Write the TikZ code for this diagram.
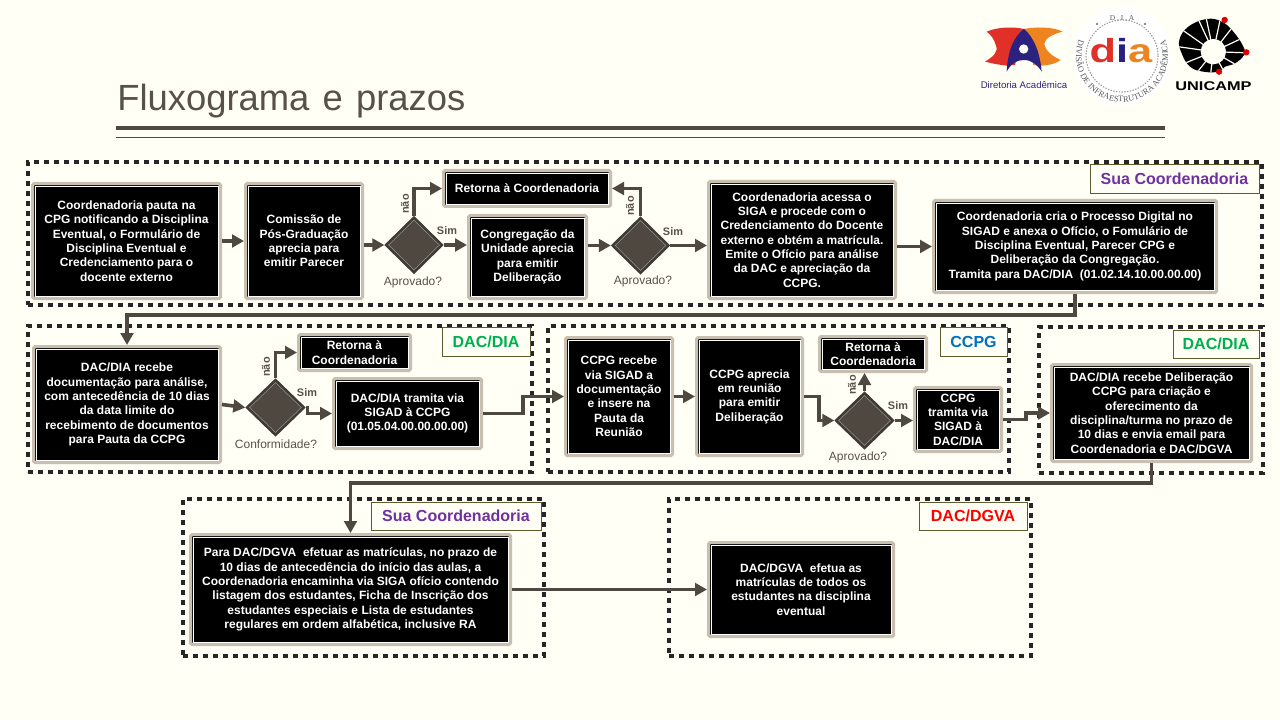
\documentclass[tikz,border=0pt]{standalone}
\usepackage{fontspec}
\setmainfont{Liberation Sans}
\newfontfamily\serifl{Liberation Serif}
\usetikzlibrary{arrows.meta,shapes.geometric,calc,decorations.text}
\definecolor{bgc}{HTML}{FFFFF5}
\definecolor{ln}{HTML}{4F4840}
\definecolor{tanb}{HTML}{C9BFB0}
\definecolor{tagb}{HTML}{5D5A2E}
\definecolor{txg}{HTML}{5A5248}
\definecolor{purp}{HTML}{7030A0}
\definecolor{grn}{HTML}{00B050}
\definecolor{blu}{HTML}{0070C0}
\definecolor{navy}{HTML}{2B2280}
\definecolor{jred}{HTML}{E03028}
\definecolor{jora}{HTML}{EE8420}
\tikzset{
  boxn/.style={draw=tanb,line width=2.4pt,fill=black,rounded corners=1pt,inner sep=0pt,align=center,text=white,
    font=\bfseries\fontsize{9}{10.75}\selectfont},
  inl/.style={draw=white,line width=.5pt},
  grpn/.style={draw=black!85,line width=2.4pt,dash pattern=on 3.9pt off 3.6pt,inner sep=0pt},
  tagn/.style={draw=tagb,line width=.7pt,fill=bgc,inner sep=0pt,font=\bfseries\fontsize{12}{14}\selectfont},
  conn/.style={draw=ln,line width=2.7pt,-{Triangle[length=9pt,width=9.5pt]}},
  dout/.style={diamond,aspect=1,draw=ln!80!black,line width=1pt,fill=ln!80!black,inner sep=0pt},
  din/.style={diamond,aspect=1,draw=ln!60!white,line width=.4pt,fill=ln,inner sep=0pt},
  simt/.style={text=txg,font=\bfseries\fontsize{8.2}{10}\selectfont,inner sep=0pt},
  qt/.style={text=txg,font=\fontsize{9}{10}\selectfont,inner sep=0pt},
}
\newcommand\bx[6]{%
  \node[boxn,minimum width={(#4-#2)*.75pt-2.4pt},minimum height={(#5-#3)*.75pt-2.4pt}] (#1) at ({(#2+#4)/2},{(#3+#5)/2}) {#6};
  \draw[inl] ([shift={(4,4)}]#1.north west) rectangle ([shift={(-4,-4)}]#1.south east);}
\newcommand\grp[5]{%
  \node[grpn,minimum width={(#4-#2)*.75pt},minimum height={(#5-#3)*.75pt}] (#1) at ({(#2+#4)/2},{(#3+#5)/2}) {};}
\newcommand\tagbox[7]{%
  \node[tagn,text=#6,minimum width={(#4-#2)*.75pt},minimum height={(#5-#3)*.75pt}] (#1) at ({(#2+#4)/2},{(#3+#5)/2}) {#7};}
\newcommand\dmd[5]{%
  \node[dout,minimum width={#4*.75pt},minimum height={#5*.75pt}] (#1) at (#2,#3) {};
  \node[din,minimum width={(#4-7)*.75pt},minimum height={(#5-7)*.75pt}] (#1i) at (#2,#3) {};}
\begin{document}
\begin{tikzpicture}[x=.75pt,y=-.75pt]
\useasboundingbox (0,0) rectangle (1280,720);
\fill[bgc] (0,0) rectangle (1280,720);

% title
\node[anchor=base west,inner sep=0pt,text=ln!95!white,font=\fontsize{27.3}{32}\selectfont] (title) at (117,111) {Fluxograma\hspace{2.3pt} e\hspace{2.3pt} prazos};
\coordinate (ra) at (116,128); \coordinate (rb) at (1165,128);
\coordinate (rc) at (116,137); \coordinate (rd) at (1165,137);
\draw[ln,line width=3.6pt] (ra) -- (rb);
\draw[ln,line width=.6pt] (rc) -- (rd);

% logo Diretoria Academica
\begin{scope}[shift={(975,10)},x=.25pt,y=-.25pt]
  \fill[jred] (35,65) .. controls (70,50) and (115,50) .. (147,57) -- (120,165) -- (95,167)
     .. controls (75,165) and (50,160) .. (30,155) .. controls (55,140) and (72,125) .. (62,105) .. controls (58,88) and (48,75) .. (35,65) -- cycle;
  \fill[jora] (263,65) .. controls (235,50) and (180,50) .. (147,57) -- (175,165) -- (200,167)
     .. controls (225,165) and (245,160) .. (257,150) .. controls (235,140) and (212,125) .. (208,102) .. controls (208,85) and (235,72) .. (263,65) -- cycle;
  \fill[navy] (147,57) .. controls (115,80) and (98,125) .. (95,185) .. controls (108,160) and (125,150) .. (147,150)
     .. controls (170,150) and (188,165) .. (200,185) .. controls (195,125) and (175,80) .. (147,57) -- cycle;
  \fill[bgc] (146,117) circle[radius=14];
\end{scope}
\node[inner sep=0pt,text=navy,font=\fontsize{7.2}{8}\selectfont] (ldir) at (1024,85) {Diretoria Acadêmica};

% logo DIA
\coordinate (dc) at (1122,56);
\fill[white] (dc) circle[radius=49];
\draw[gray!80,line width=.9pt,dash pattern=on .5pt off 1.6pt,line cap=round] (dc) circle[radius=36];
\path[decorate,decoration={text along path,text align=center,
   text={|\serifl\fontsize{6.3}{7}\selectfont\color{black!65}|DIVISÃO DE INFRAESTRUTURA ACADÊMICA}}]
   (dc) ++(142:34.5pt) arc[start angle=142,end angle=398,radius=34.5pt];
\node[inner sep=0pt,text=black!65,font=\serifl\fontsize{5.6}{6}\selectfont] (ldia) at (1122,18) {D . I . A};
\fill[black!60] (1097,24) circle[radius=1.2] (1145,24) circle[radius=1.2];
\node[inner sep=0pt,xscale=1.3,font=\bfseries\fontsize{25}{26}\selectfont] (ldib) at (1121,51) {\textcolor{jred}{d}\textcolor{navy}{i}\textcolor{jora}{a}};

% logo UNICAMP
\begin{scope}[shift={(1170,10)},x=.25pt,y=-.25pt]
  \begin{scope}
    \clip plot[smooth cycle,tension=.7] coordinates {(110,27) (155,35) (190,65) (220,110) (222,135) (195,160) (165,170) (145,185) (100,185) (60,170) (35,130) (28,90) (55,50)};
    \fill[black] (0,0) rectangle (260,210);
    \foreach \a in {-78,-52,-25,2,30,62,97,128,158,188,215,245,-102}
      \draw[bgc,line width=.9pt] (130,125) -- ++(\a:120);
  \end{scope}
  \fill[bgc] (130,125) circle[radius=38];
  \fill[red!85!black] (164,30) circle[radius=9.5] (229,127) circle[radius=9.5] (147,185) circle[radius=9.5];
\end{scope}
\node[inner sep=0pt,xscale=1.29,font=\bfseries\fontsize{9.5}{11}\selectfont] (luni) at (1213.5,86) {UNICAMP};

% groups
\grp{g1}{28}{162}{1262}{305}
\grp{g2}{28}{326}{532}{472}
\grp{g3}{548}{326}{1009}{472}
\grp{g4}{1039}{327}{1263}{473}
\grp{g5}{183}{499}{544}{656}
\grp{g6}{669}{499}{1031}{656}

% tags
\tagbox{t1}{1090}{164}{1259}{193}{purp}{Sua Coordenadoria}
\tagbox{t2}{442}{327}{530}{356}{grn}{DAC/DIA}
\tagbox{t3}{940}{327}{1007}{356}{blu}{CCPG}
\tagbox{t4}{1173}{330}{1259}{358}{grn}{DAC/DIA}
\tagbox{t5}{371}{502}{541}{530}{purp}{Sua Coordenadoria}
\tagbox{t6}{919}{502}{1027}{530}{red}{DAC/DGVA}

% row 1
\bx{b1}{31}{182}{222}{300}{Coordenadoria pauta na\\CPG notificando a Disciplina\\Eventual, o Formulário de\\Disciplina Eventual e\\Credenciamento para o\\docente externo}
\bx{b2}{244}{182}{364}{300}{Comissão de\\Pós-Graduação\\aprecia para\\emitir Parecer}
\bx{r1}{442}{169}{612}{208}{Retorna à Coordenadoria}
\bx{b3}{467}{214}{588}{300}{Congregação da\\Unidade aprecia\\para emitir\\Deliberação}
\bx{b4}{707}{180}{897}{300}{Coordenadoria acessa o\\SIGA e procede com o\\Credenciamento do Docente\\externo e obtém a matrícula.\\Emite o Ofício para análise\\da DAC e apreciação da\\CCPG.}
\bx{b5}{932}{199}{1218}{294}{Coordenadoria cria o Processo Digital no\\SIGAD e anexa o Ofício, o Fomulário de\\Disciplina Eventual, Parecer CPG e\\Deliberação da Congregação.\\Tramita para DAC/DIA\ \ (01.02.14.10.00.00.00)}
\dmd{d1}{414}{245}{58}{57}
\dmd{d2}{640.5}{245.5}{58}{57}

% row 2
\bx{b6}{32}{345}{222}{464}{DAC/DIA recebe\\documentação para análise,\\com antecedência de 10 dias\\da data limite do\\recebimento de documentos\\para Pauta da CCPG}
\bx{r2}{297}{333}{412}{372}{Retorna à\\Coordenadoria}
\dmd{d3}{275.5}{407.5}{59}{57}
\bx{b7}{332}{377}{483}{450}{DAC/DIA tramita via\\SIGAD à CCPG\\(01.05.04.00.00.00.00)}
\bx{b8}{564}{336}{674}{457}{CCPG recebe\\via SIGAD a\\documentação\\e insere na\\Pauta da\\Reunião}
\bx{b9}{695}{336}{804}{457}{CCPG aprecia\\em reunião\\para emitir\\Deliberação}
\bx{r3}{818}{335}{928}{373}{Retorna à\\Coordenadoria}
\dmd{d4}{864.5}{420.5}{59}{57}
\bx{b10}{913}{386}{1003}{453}{CCPG\\tramita via\\SIGAD à\\DAC/DIA}
\bx{b11}{1050}{363}{1253}{463}{DAC/DIA recebe Deliberação\\CCPG para criação e\\oferecimento da\\disciplina/turma no prazo de\\10 dias e envia email para\\Coordenadoria e DAC/DGVA}

% row 3
\bx{b12}{189}{533}{512}{646}{Para DAC/DGVA\ \ efetuar as matrículas, no prazo de\\10 dias de antecedência do início das aulas, a\\Coordenadoria encaminha via SIGA ofício contendo\\listagem dos estudantes, Ficha de Inscrição dos\\estudantes especiais e Lista de estudantes\\regulares em ordem alfabética, inclusive RA}
\bx{b13}{707}{541}{895}{638}{DAC/DGVA\ \ efetua as\\matrículas de todos os\\estudantes na disciplina\\eventual}

% connectors
\draw[conn] (b1.east) -- (b2.west);
\draw[conn] (b2.east |- d1.west) -- (d1.west);
\draw[conn] (d1.east) -- (d1.east -| b3.west);
\draw[conn] (d1.north) |- (r1.west);
\draw[conn] (b3.east |- d2.west) -- (d2.west);
\draw[conn] (d2.north) |- (r1.east);
\draw[conn] (d2.east) -- (d2.east -| b4.west);
\draw[conn] (b4.east |- b5.west) -- (b5.west);
\draw[conn] (b5.south) -- ++(0,21) -| (b6.north);
\draw[conn] (b6.east) -- (d3.west);
\draw[conn] (d3.north) |- (r2.west);
\draw[conn] (d3.east) -- ++(2,0) |- (b7.west);
\draw[conn] (b7.east) -- ++(40,0) |- (b8.west);
\draw[conn] (b8.east) -- (b9.west);
\draw[conn] (b9.east) -- ++(15,0) |- (d4.west);
\draw[conn] (d4.north) -- (d4.north |- r3.south);
\draw[conn] (d4.east) -- (d4.east -| b10.west);
\draw[conn] (b10.east) -- ++(23,0) |- (b11.west);
\draw[conn] (b11.south) -- ++(0,20) -| (b12.north);
\draw[conn] (b12.east) -- (b13.west);

% labels
\node[simt,rotate=90] (n1) at (405,204) {não};
\node[simt,rotate=90] (n2) at (630,206) {não};
\node[simt,rotate=90] (n3) at (266,367) {não};
\node[simt,rotate=90] (n4) at (852,385) {não};
\node[simt] (s1) at (447,231) {Sim};
\node[simt] (s2) at (673,232) {Sim};
\node[simt] (s3) at (307,393) {Sim};
\node[simt] (s4) at (898,406) {Sim};
\node[qt] (q1) at (413,282) {Aprovado?};
\node[qt] (q2) at (643,281) {Aprovado?};
\node[qt] (q3) at (276,444) {Conformidade?};
\node[qt] (q4) at (858,457) {Aprovado?};
\end{tikzpicture}
\end{document}
